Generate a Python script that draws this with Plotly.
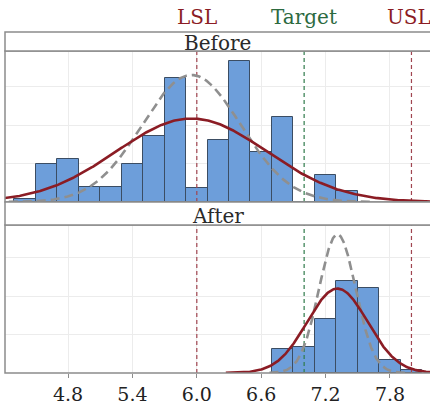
import numpy as np
import plotly.graph_objects as go
from plotly.subplots import make_subplots

# ---- data ----
bin_width = 0.2
before_centers = [4.4, 4.6, 4.8, 5.0, 5.2, 5.4, 5.6, 5.8, 6.0, 6.2, 6.4, 6.6, 6.8, 7.0, 7.2, 7.4]
before_counts = [0.21, 2.99, 3.33, 1.17, 1.17, 2.99, 5.12, 9.66, 1.11, 4.86, 10.97, 3.90, 6.63, 0.0, 2.08, 0.88]
after_centers = [6.8, 7.0, 7.2, 7.4, 7.6, 7.8, 8.0]
after_counts = [1.89, 2.00, 4.23, 7.17, 6.63, 0.99, 0.26]

# fitted normal parameters (overall = solid red, within = grey dashed)
before_mean, before_sd_overall, before_sd_within = 5.95, 0.70, 0.46
after_mean, after_sd_overall, after_sd_within = 7.31, 0.281, 0.171
curve_span_sd = 3.7  # curves drawn over mean +/- this many sd

LSL, TARGET, USL = 6.0, 7.0, 8.0
spec_labels = ["LSL", "Target", "USL"]
tick_vals = [4.8, 5.4, 6.0, 6.6, 7.2, 7.8]
tick_text = ["4.8", "5.4", "6.0", "6.6", "7.2", "7.8"]
panel_names = ["Before", "After"]

# ---- styling ----
FONT = "DejaVu Serif"
BAR_FILL = "#6d9eda"
BAR_LINE = "#3b4d63"
RED = "#8b1c24"
GREY = "#8f8f8f"
SPEC_RED = "#a04550"
SPEC_GREEN = "#2f7a4a"
BORDER = "#8c8c8c"
GRID = "#ececec"

W, H = 430, 405
TOP, BOT = 51, 373  # plot area pixel rows
PH = BOT - TOP
unit = 12.83


def py(y):
    return (BOT - y) / PH


def normal_curve(mean, sd, n):
    lo, hi = max(4.15, mean - curve_span_sd * sd), min(8.25, mean + curve_span_sd * sd)
    xs = np.linspace(lo, hi, 400)
    ys = n * bin_width * np.exp(-0.5 * ((xs - mean) / sd) ** 2) / (sd * np.sqrt(2 * np.pi))
    return xs, ys


fig = make_subplots(rows=2, cols=1, shared_xaxes=True)

y_tops = [(202 - TOP) / unit, (BOT - 225) / unit]
panels = [
    (1, before_centers, before_counts, before_mean, before_sd_overall, before_sd_within),
    (2, after_centers, after_counts, after_mean, after_sd_overall, after_sd_within),
]
for (row, centers, counts, m, so, sw), ytop in zip(panels, y_tops):
    n = sum(counts)
    # spec limit lines (drawn first so they sit behind the bars)
    for xv, col in [(LSL, SPEC_RED), (TARGET, SPEC_GREEN), (USL, SPEC_RED)]:
        fig.add_trace(go.Scatter(x=[xv, xv], y=[0, ytop], mode="lines",
                                 line=dict(color=col, width=1.2, dash="4px,3px"),
                                 showlegend=False, hoverinfo="skip"), row=row, col=1)
    fig.add_trace(go.Bar(x=centers, y=counts, width=bin_width,
                         marker=dict(color=BAR_FILL, line=dict(color=BAR_LINE, width=1)),
                         showlegend=False, hoverinfo="skip"), row=row, col=1)
    xs, ys = normal_curve(m, sw, n)
    fig.add_trace(go.Scatter(x=xs, y=ys, mode="lines",
                             line=dict(color=GREY, width=2.6, dash="9px,5px"),
                             showlegend=False, hoverinfo="skip"), row=row, col=1)
    xs, ys = normal_curve(m, so, n)
    fig.add_trace(go.Scatter(x=xs, y=ys, mode="lines",
                             line=dict(color=RED, width=2.6),
                             showlegend=False, hoverinfo="skip"), row=row, col=1)

x_range = [4.8 - (68 - 5) / 107.3, 7.8 + (430 - 390) / 107.3]
fig.update_xaxes(range=x_range, showgrid=True, gridcolor=GRID, gridwidth=1,
                 tickvals=tick_vals, ticktext=tick_text, zeroline=False,
                 showline=False)
fig.update_xaxes(showticklabels=False, ticks="", row=1, col=1)
fig.update_xaxes(ticks="outside", ticklen=4, tickcolor=BORDER, tickwidth=1,
                 tickfont=dict(family=FONT, size=19, color="#222222"),
                 row=2, col=1)
fig.update_yaxes(showticklabels=False, showgrid=True, gridcolor=GRID, gridwidth=1,
                 dtick=3, tick0=0, zeroline=False, showline=False, ticks="")
fig.update_yaxes(range=[0, y_tops[0]], domain=[py(202), 1.0], row=1, col=1)
fig.update_yaxes(range=[0, y_tops[1]], domain=[0.0, py(225)], row=2, col=1)

shapes = []
# panel borders and strips
for y0, y1 in [(202, TOP), (BOT, 225)]:
    shapes.append(dict(type="rect", xref="paper", yref="paper", x0=0, x1=1.05,
                       y0=py(y0), y1=py(y1), line=dict(color=BORDER, width=1.5),
                       fillcolor="rgba(0,0,0,0)", layer="above"))
for y0, y1 in [(TOP, 32), (225, 202)]:
    shapes.append(dict(type="rect", xref="paper", yref="paper", x0=0, x1=1.05,
                       y0=py(y0), y1=py(y1), line=dict(color=BORDER, width=1.5),
                       fillcolor="white", layer="above"))

annotations = []
for name, yc in zip(panel_names, [43, 216]):
    annotations.append(dict(text=name, xref="paper", yref="paper", x=0.5, y=py(yc),
                            xanchor="center", yanchor="middle", showarrow=False,
                            font=dict(family=FONT, size=20, color="#2a2a2a")))
for lab, xv, col, shift in zip(spec_labels, [LSL, TARGET, USL],
                               ["#8b1c24", "#2d6a3f", "#8b1c24"], [0, 0, -2]):
    annotations.append(dict(text=lab, xref="x", yref="paper", x=xv, y=py(17),
                            xanchor="center", yanchor="middle", showarrow=False, xshift=shift,
                            font=dict(family=FONT, size=20, color=col)))

fig.update_layout(width=W, height=H, margin=dict(l=5, r=0, t=TOP, b=H - BOT),
                  paper_bgcolor="white", plot_bgcolor="white", barmode="overlay",
                  bargap=0, shapes=shapes, annotations=annotations, showlegend=False)

fig.write_html("out.html", config={"displayModeBar": False},
               post_script="document.body.style.margin='0';document.body.style.padding='0';")
